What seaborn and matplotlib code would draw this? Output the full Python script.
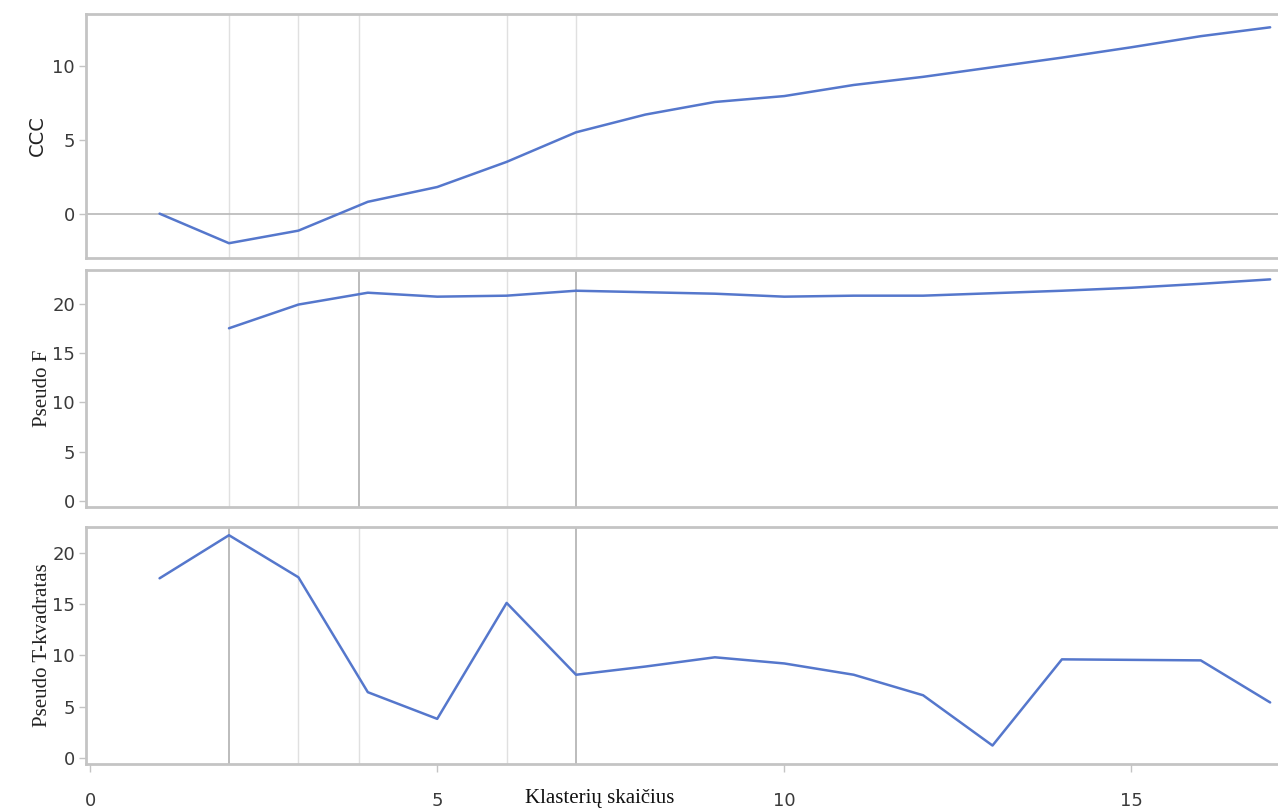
import numpy as np
import pandas as pd
import matplotlib
matplotlib.use("Agg")
import matplotlib.pyplot as plt
import seaborn as sns

clusters = [1, 2, 3, 4, 5, 6, 7, 8, 9, 10, 11, 12, 13, 14, 15, 16, 17]
ccc = [0.0, -2.0, -1.15, 0.8, 1.8, 3.5, 5.5, 6.7, 7.55, 7.95, 8.7, 9.25, 9.9, 10.55, 11.25, 12.0, 12.6]
pseudo_f = [np.nan, 17.5, 19.9, 21.1, 20.7, 20.8, 21.3, 21.15, 21.0, 20.7, 20.8, 20.8, 21.05, 21.3, 21.6, 22.0, 22.45]
pseudo_t2 = [17.5, 21.7, 17.6, 6.4, 3.8, 15.1, 8.1, 8.9, 9.8, 9.2, 8.1, 6.1, 1.2, 9.6, 9.55, 9.5, 5.4]

ccc_ticks = [0, 5, 10]
f_ticks = [0, 5, 10, 15, 20]
t_ticks = [0, 5, 10, 15, 20]
x_ticks = [0, 5, 10, 15]

# reference lines (x positions) and whether they are dark in each panel
ref_lines = [2, 3, 3.88, 6, 7]
dark_ccc = []
dark_f = [3.88, 7]
dark_t = [2, 7]

df = pd.DataFrame({"k": clusters, "CCC": ccc, "F": pseudo_f, "T2": pseudo_t2})

sns.set_theme(style="white")
plt.rcParams['font.family'] = ['DejaVu Sans']

fig = plt.figure(figsize=(12.78, 8.09), dpi=100)
left = 86 / 1278
width = 1 - left + 0.002
H = 809
ax1 = fig.add_axes([left, 1 - 258 / H, width, 244 / H])
ax2 = fig.add_axes([left, 1 - 507 / H, width, 237 / H])
ax3 = fig.add_axes([left, 1 - 764 / H, width, 237 / H])

line_color = "#5577cc"
spine_color = "#c4c4c4"
light = "#e0e0e0"
dark = "#b0b0b0"
tick_color = "#3a3a3a"

panels = [
    (ax1, "CCC", ccc_ticks, (-3.0, 13.5), dark_ccc),
    (ax2, "F", f_ticks, (-0.6, 23.4), dark_f),
    (ax3, "T2", t_ticks, (-0.6, 22.5), dark_t),
]

for ax, col, yt, yl, darks in panels:
    for xv in ref_lines:
        c = dark if xv in darks else light
        ax.axvline(xv, color=c, lw=1.2 if xv in darks else 1.0, zorder=1)
    if col == "CCC":
        ax.axhline(0, color="#b8b8b8", lw=1.2, zorder=1)
    sns.lineplot(data=df, x="k", y=col, ax=ax, color=line_color, lw=1.8, zorder=3)
    ax.set_xlim(-0.06, 17.15)
    ax.set_ylim(*yl)
    ax.set_yticks(yt)
    ax.set_yticklabels([str(v) for v in yt], fontsize=13, color=tick_color)
    ax.tick_params(axis="y", left=True, length=5, width=1, color=spine_color, pad=3)
    for s in ["top", "bottom", "left", "right"]:
        ax.spines[s].set_color(spine_color)
        ax.spines[s].set_linewidth(2.0)
    ax.set_xlabel("")

ax1.set_xticks([])
ax2.set_xticks([])
ax3.set_xticks(x_ticks)
ax3.set_xticklabels([str(v) for v in x_ticks], fontsize=13, color=tick_color)
ax3.tick_params(axis="x", bottom=True, length=6, width=1, color=spine_color, pad=14)

ax1.set_ylabel("CCC", fontsize=14, color="#222222", labelpad=4)
ax2.set_ylabel("Pseudo F", fontsize=15, color="#222222", family="Liberation Serif", labelpad=0)
ax3.set_ylabel("Pseudo T-kvadratas", fontsize=15, color="#222222", family="Liberation Serif", labelpad=0)

fig.text(600 / 1278, 1 - 799 / H, "Klasterių skaičius", ha="center", va="center",
         fontsize=15, family="Liberation Serif", color="#111111")

fig.savefig("out.png", dpi=100)
